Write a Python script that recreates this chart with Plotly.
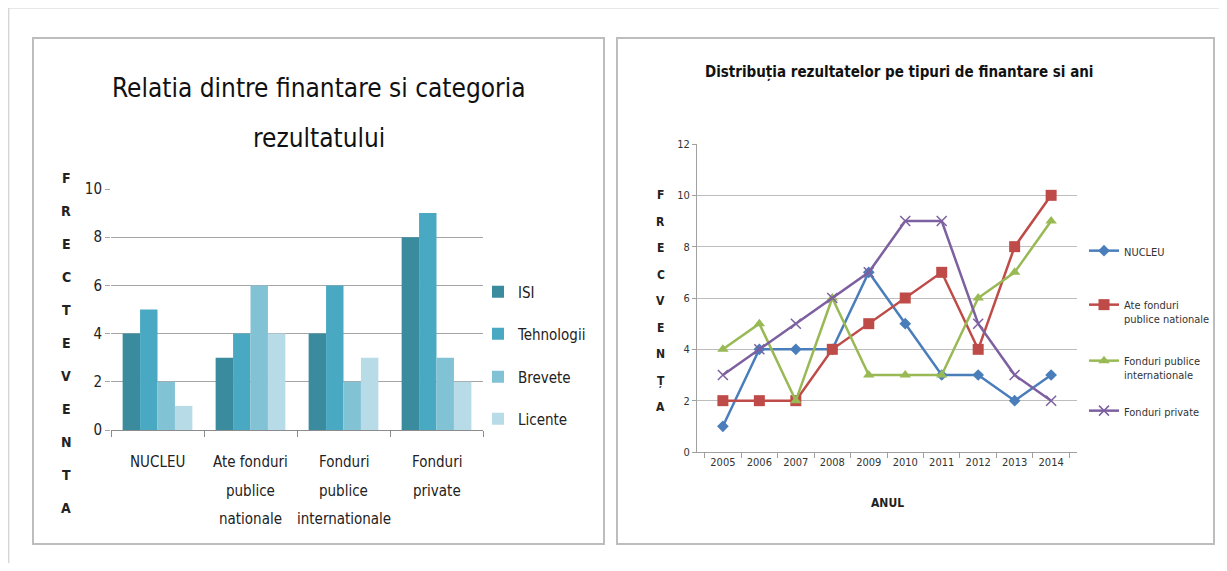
import plotly.graph_objects as go

# ---------------- data ----------------
bar_categories = ["NUCLEU", "Ate fonduri publice nationale",
                  "Fonduri publice internationale", "Fonduri private"]
bar_cat_lines = [["NUCLEU"], ["Ate fonduri", "publice", "nationale"],
                 ["Fonduri", "publice", "internationale"], ["Fonduri", "private"]]
bar_series = ["ISI", "Tehnologii", "Brevete", "Licente"]
isi = [4, 3, 4, 8]
tehnologii = [5, 4, 6, 9]
brevete = [2, 6, 2, 3]
licente = [1, 4, 3, 2]

years = ["2005", "2006", "2007", "2008", "2009", "2010", "2011", "2012", "2013", "2014"]
line_names = ["NUCLEU", "Ate fonduri<br>publice nationale",
              "Fonduri publice<br>internationale", "Fonduri private"]
nucleu = [1, 4, 4, 4, 7, 5, 3, 3, 2, 3]
ate_fonduri = [2, 2, 2, 4, 5, 6, 7, 4, 8, 10]
fonduri_publice_int = [4, 5, 2, 6, 3, 3, 3, 6, 7, 9]
fonduri_private = [3, 4, 5, 6, 7, 9, 9, 5, 3, 2]

left_title = ["Relatia dintre finantare si categoria", "rezultatului"]
right_title = "Distribuția rezultatelor pe tipuri de finantare si ani"
left_ylabel = "FRECTEVENTA"
right_ylabel = "FRECVENȚA"
right_xlabel = "ANUL"

# ---------------- style ----------------
# The page keeps the browser's 8px body margin, so the figure is sized to fit
# the 1227x571 window inside it; positions below are window pixels.
PAGE_W, PAGE_H, OFF = 1227, 571, 8
W, H = PAGE_W - 2 * OFF, PAGE_H - 2 * OFF
FONT = "Liberation Sans Narrow, DejaVu Sans Condensed, Arial Narrow, sans-serif"
bar_colors = ["#3B8B9F", "#4AA9C2", "#82C2D5", "#B7DBE7"]
line_colors = ["#4A7EBB", "#BE4B48", "#98B954", "#7D60A0"]
markers = ["diamond", "square", "triangle-up", "x-thin"]
marker_sizes = [9, 11, 10, 10]


def px(x):
    return (x - OFF) / W


def py(y):
    return 1 - (y - OFF) / H


fig = go.Figure()

bar_vals = [isi, tehnologii, brevete, licente]
bar_legend_y = [292, 334, 377, 419]
for i, (name, vals) in enumerate(zip(bar_series, bar_vals)):
    lg = "legend" if i == 0 else f"legend{i + 1}"
    fig.add_trace(go.Bar(
        x=bar_categories, y=vals, name=name, marker_color=bar_colors[i],
        marker_line_width=0, xaxis="x", yaxis="y", legend=lg, showlegend=True,
    ))

line_vals = [nucleu, ate_fonduri, fonduri_publice_int, fonduri_private]
line_legend_y = [245, 299, 355, 405]
for i, (name, vals) in enumerate(zip(line_names, line_vals)):
    lg = f"legend{i + 5}"
    mk = dict(symbol=markers[i], size=marker_sizes[i], color=line_colors[i])
    if markers[i] == "x-thin":
        mk["line"] = dict(color=line_colors[i], width=1.5)
    fig.add_trace(go.Scatter(
        x=years, y=vals, name=name, mode="lines+markers",
        line=dict(color=line_colors[i], width=2.5), marker=mk,
        xaxis="x2", yaxis="y2", legend=lg, showlegend=True,
    ))

layout_legends = {}
for i in range(4):
    key = "legend" if i == 0 else f"legend{i + 1}"
    layout_legends[key] = dict(
        x=px(478), y=py(bar_legend_y[i]), xanchor="left", yanchor="middle",
        bgcolor="rgba(0,0,0,0)", font=dict(family=FONT, size=15, color="#222"),
        itemwidth=30,
    )
for i in range(4):
    key = f"legend{i + 5}"
    layout_legends[key] = dict(
        x=px(1084), y=py(line_legend_y[i] - 8), xanchor="left", yanchor="top",
        bgcolor="rgba(0,0,0,0)", font=dict(family=FONT, size=11, color="#333"),
        itemwidth=30, valign="top",
    )

annotations = []
for t, yy in zip(left_title, [88, 138]):
    annotations.append(dict(text=t, x=px(319), y=py(yy), xref="paper", yref="paper",
                            showarrow=False, xanchor="center", yanchor="middle",
                            font=dict(family=FONT, size=26, color="#111")))
annotations.append(dict(text="<b>" + right_title + "</b>", x=px(899), y=py(72),
                        xref="paper", yref="paper", showarrow=False,
                        xanchor="center", yanchor="middle",
                        font=dict(family=FONT, size=15, color="#111")))
for k, ch in enumerate(left_ylabel):
    annotations.append(dict(text="<b>" + ch + "</b>", x=px(66), y=py(178 + 33 * k),
                            xref="paper", yref="paper", showarrow=False,
                            xanchor="center", yanchor="middle",
                            font=dict(family=FONT, size=14, color="#222")))
for k, ch in enumerate(right_ylabel):
    annotations.append(dict(text="<b>" + ch + "</b>", x=px(661), y=py(195 + 26.5 * k),
                            xref="paper", yref="paper", showarrow=False,
                            xanchor="center", yanchor="middle",
                            font=dict(family=FONT, size=12, color="#222")))
annotations.append(dict(text="<b>" + right_xlabel + "</b>", x=px(887), y=py(503),
                        xref="paper", yref="paper", showarrow=False,
                        xanchor="center", yanchor="middle",
                        font=dict(family=FONT, size=12, color="#222")))
for cat, lines in zip(bar_categories, bar_cat_lines):
    for j, ln in enumerate(lines):
        annotations.append(dict(text=ln, x=cat, y=py(462 + 28.5 * j), xref="x",
                                yref="paper", showarrow=False, xanchor="center",
                                yanchor="middle",
                                font=dict(family=FONT, size=15, color="#222")))

shapes = [
    dict(type="line", xref="paper", yref="paper", x0=px(8), x1=1, y0=1, y1=1,
         line=dict(color="#E0E0E0", width=1.5)),
    dict(type="line", xref="paper", yref="paper", x0=0.0005, x1=0.0005, y0=1, y1=0,
         line=dict(color="#D6D6D6", width=1.5)),
    dict(type="rect", xref="paper", yref="paper", x0=px(33), x1=px(604), y0=py(38),
         y1=py(544), line=dict(color="#BDBDBD", width=2)),
    dict(type="rect", xref="paper", yref="paper", x0=px(617), x1=px(1214), y0=py(38),
         y1=py(544), line=dict(color="#BDBDBD", width=2)),
]

fig.update_layout(
    width=W, height=H, margin=dict(l=0, r=0, t=0, b=0, autoexpand=False),
    showlegend=True,
    paper_bgcolor="white", plot_bgcolor="white",
    barmode="group", bargap=0.25, bargroupgap=0,
    font=dict(family=FONT, color="#222"),
    annotations=annotations, shapes=shapes,
    xaxis=dict(domain=[px(111), px(483)], anchor="y", showticklabels=False,
               showgrid=False, showline=True, linecolor="#8C8C8C", linewidth=1,
               ticks="outside", tickson="boundaries", ticklen=6, tickcolor="#8C8C8C",
               automargin=False),
    yaxis=dict(domain=[py(430), py(189)], anchor="x", range=[0, 10], dtick=2,
               showgrid=True, gridcolor="#A6A6A6", gridwidth=1, zeroline=False,
               showline=False, ticks="outside", ticklen=5, tickcolor="#A6A6A6",
               tickfont=dict(family=FONT, size=15, color="#222"), automargin=False),
    xaxis2=dict(domain=[px(697), px(1077)], anchor="y2", showgrid=False,
                showline=True, linecolor="#A0A0A0", linewidth=1, ticks="outside",
                tickson="boundaries", ticklen=5, tickcolor="#A0A0A0",
                tickfont=dict(family=FONT, size=11, color="#333"), automargin=False),
    yaxis2=dict(domain=[py(452), py(144)], anchor="x2", range=[0, 12], dtick=2,
                showgrid=True, gridcolor="#BDBDBD", gridwidth=1, zeroline=False,
                showline=True, linecolor="#A0A0A0", linewidth=1, ticks="outside",
                ticklen=4, tickcolor="#A0A0A0",
                tickfont=dict(family=FONT, size=11, color="#333"), automargin=False),
    **layout_legends,
)

fig.write_html("out.html", config={"displayModeBar": False})
